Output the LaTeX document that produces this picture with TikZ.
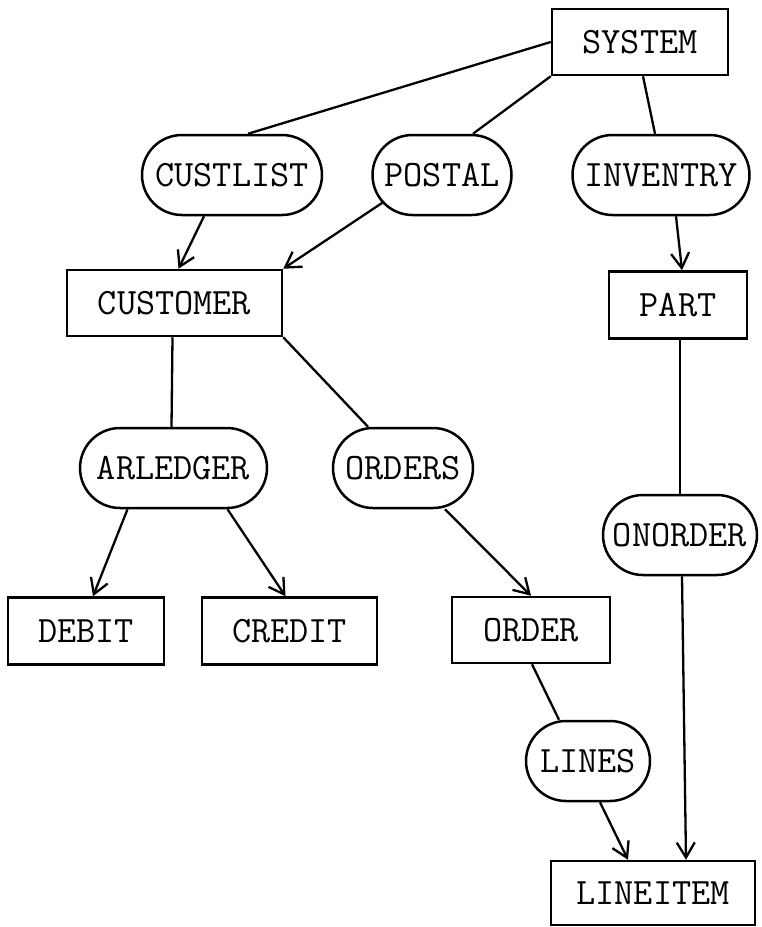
\documentclass[tikz,border=0pt]{standalone}
\usepackage{fontspec}
\usetikzlibrary{arrows.meta}
\usetikzlibrary{shapes.misc}
\tikzset{
        basenode/.style={align=center,inner sep=0pt,draw=black,line width=1.25pt,
            font=\ttfamily\fontsize{18.6}{21}\selectfont},
        % Record types
        node_record/.style={basenode, rectangle, minimum height=33pt},
        % Set types
        node_set/.style={basenode, rounded rectangle, minimum height=40pt},
        % Owner-to-set lines
        link/.style={line width=1.15pt},
        % Set-to-member arrows
        link_arrow/.style={link, -{Straight Barb[length=7.5pt,width=9pt,line width=1.15pt]}}
}
\begin{document}
\begin{tikzpicture}[x=0.5pt, y=-0.5pt]
            \useasboundingbox (0,0) rectangle (761,927);
            % top level
            \node[node_record, minimum width=88pt] (system) at (640,42) {SYSTEM};
            \node[node_set, minimum width=90pt] (custlist) at (232,175) {CUSTLIST};
            \node[node_set, minimum width=69.5pt] (postal) at (442,175) {POSTAL};
            \node[node_set, minimum width=88.5pt] (inventry) at (661,175) {INVENTRY};
            \node[node_record, minimum width=107.5pt] (customer) at (174.5,303) {CUSTOMER};
            \node[node_record, minimum width=69pt, minimum height=33.5pt] (part) at (678,305) {PART};
            % middle level
            \node[node_set, minimum width=93.5pt] (arledger) at (173.5,468) {ARLEDGER};
            \node[node_set, minimum width=70pt] (orders) at (403,468) {ORDERS};
            \node[node_set, minimum width=77pt] (onorder) at (680,535) {ONORDER};
            \node[node_record, minimum width=78pt, minimum height=33.5pt] (debit) at (86,631) {DEBIT};
            \node[node_record, minimum width=87.5pt, minimum height=33.5pt] (credit) at (289.5,631) {CREDIT};
            \node[node_record, minimum width=79pt] (order) at (531,630) {ORDER};
            % bottom level
            \node[node_set, minimum width=62pt] (lines) at (588,761) {LINES};
            \node[node_record, minimum width=102pt, minimum height=32pt] (lineitem) at (653,893) {LINEITEM};

            \draw[link] (system.west) -- ([xshift=8pt]custlist.north);
            \draw[link] (system.south west) -- ([xshift=15.5pt]postal.north);
            \draw[link] ([xshift=1.5pt]system.south) -- ([xshift=-3pt]inventry.north);
            \draw[link_arrow] ([xshift=-14pt]custlist.south) -- ([xshift=2pt]customer.north);
            \draw[link_arrow] (postal.205) -- (customer.north east);
            \draw[link_arrow] ([xshift=7.5pt]inventry.south) -- ([xshift=2pt]part.north);
            \draw[link] ([xshift=-1pt]customer.south) -- ([xshift=-1pt]arledger.north);
            \draw[link] (customer.south east) -- ([xshift=-17.5pt]orders.north);
            \draw[link] ([xshift=1pt]part.south) -- (onorder.north);
            \draw[link_arrow] ([xshift=-23pt]arledger.south) -- ([xshift=3.5pt]debit.north);
            \draw[link_arrow] ([xshift=27pt]arledger.south) -- ([xshift=-2pt]credit.north);
            \draw[link_arrow] ([xshift=21pt]orders.south) -- (order.north);
            \draw[link] ([xshift=0.5pt]order.south) -- ([xshift=-14.5pt]lines.north);
            \draw[link_arrow] ([xshift=6pt]lines.south) -- ([xshift=-12.5pt]lineitem.north);
            \draw[link_arrow] ([xshift=1pt]onorder.south) -- ([xshift=16.5pt]lineitem.north);
\end{tikzpicture}
\end{document}
